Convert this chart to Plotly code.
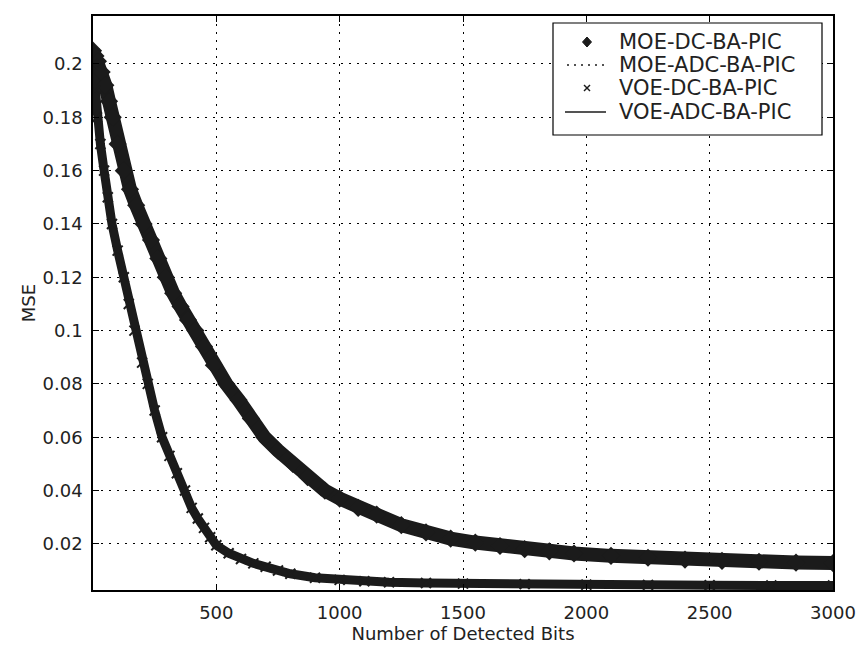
import plotly.graph_objects as go

# ---- data ----
moe_dc_bits = [0, 10, 20, 35, 50, 65, 80, 100, 125, 150, 175, 205, 235, 265, 295, 325, 355, 385,
               415, 450, 490, 540, 590, 640, 695, 750, 810, 870, 940, 1000, 1075, 1150, 1250, 1350,
               1450, 1550, 1650, 1750, 1850, 1950, 2100, 2250, 2400, 2550, 2700, 2850, 3000]
moe_dc_mse = [0.205, 0.203, 0.201, 0.197, 0.192, 0.186, 0.180, 0.170, 0.160, 0.153, 0.147, 0.140,
              0.134, 0.127, 0.120, 0.114, 0.109, 0.104, 0.100, 0.094, 0.087, 0.080, 0.074, 0.067,
              0.060, 0.055, 0.050, 0.045, 0.040, 0.037, 0.0335, 0.031, 0.027, 0.0243, 0.022, 0.0205,
              0.0192, 0.018, 0.0172, 0.0164, 0.0155, 0.0148, 0.0141, 0.0136, 0.0133, 0.013, 0.0128]

moe_adc_bits = [0, 50, 100, 150, 200, 300, 400, 500, 600, 700, 800, 900, 1000, 1200, 1400, 1600,
                1800, 2000, 2250, 2500, 2750, 3000]
moe_adc_mse = [0.204, 0.191, 0.171, 0.153, 0.141, 0.119, 0.102, 0.085, 0.073, 0.059, 0.049, 0.043,
               0.037, 0.029, 0.0235, 0.0198, 0.0176, 0.016, 0.0148, 0.0137, 0.0131, 0.0128]

voe_dc_bits = [0, 8, 16, 30, 45, 60, 77, 100, 125, 145, 168, 199, 222, 250, 280, 310, 340, 373,
               400, 425, 450, 475, 500, 550, 600, 650, 700, 750, 800, 900, 1000, 1100, 1200, 1350,
               1500, 1750, 2000, 2250, 2500, 2750, 3000]
voe_dc_mse = [0.200, 0.190, 0.180, 0.170, 0.160, 0.150, 0.140, 0.130, 0.120, 0.110, 0.100, 0.088,
              0.080, 0.070, 0.060, 0.053, 0.0465, 0.040, 0.0335, 0.0295, 0.026, 0.0225, 0.0195,
              0.0165, 0.0143, 0.0127, 0.0114, 0.010, 0.0088, 0.0073, 0.0065, 0.006, 0.0056, 0.0053,
              0.0051, 0.0049, 0.0047, 0.0046, 0.0045, 0.0044, 0.0044]

voe_adc_bits = [0, 20, 50, 80, 120, 170, 220, 280, 370, 450, 500, 600, 700, 800, 900, 1000, 1200,
                1500, 2000, 2500, 3000]
voe_adc_mse = [0.199, 0.178, 0.157, 0.139, 0.122, 0.099, 0.081, 0.060, 0.041, 0.026, 0.0196,
               0.0143, 0.0114, 0.0089, 0.0073, 0.0065, 0.0056, 0.0051, 0.0047, 0.0045, 0.0044]

series_names = ["MOE-DC-BA-PIC", "MOE-ADC-BA-PIC", "VOE-DC-BA-PIC", "VOE-ADC-BA-PIC"]

x_ticks = [500, 1000, 1500, 2000, 2500, 3000]
y_ticks = [0.02, 0.04, 0.06, 0.08, 0.10, 0.12, 0.14, 0.16, 0.18, 0.20]
y_tick_text = ["0.02", "0.04", "0.06", "0.08", "0.1", "0.12", "0.14", "0.16", "0.18", "0.2"]

INK = "#1b1b1b"
TXT = "#222"
FONT = "DejaVu Sans"

fig = go.Figure()

# ADC lines (lie underneath the dense marker bands)
fig.add_trace(go.Scatter(x=moe_adc_bits, y=moe_adc_mse, mode="lines", name=series_names[1],
                         showlegend=False, line=dict(color=INK, width=1.2, dash="dot")))
fig.add_trace(go.Scatter(x=voe_adc_bits, y=voe_adc_mse, mode="lines", name=series_names[3],
                         showlegend=False, line=dict(color=INK, width=1.2)))

# dense bands of the DC marker series
fig.add_trace(go.Scatter(x=moe_dc_bits, y=moe_dc_mse, mode="lines", showlegend=False,
                         hoverinfo="skip", line=dict(color=INK, width=14)))
fig.add_trace(go.Scatter(x=voe_dc_bits, y=voe_dc_mse, mode="lines", showlegend=False,
                         hoverinfo="skip", line=dict(color=INK, width=9)))

fig.add_trace(go.Scatter(x=moe_dc_bits, y=moe_dc_mse, mode="markers", name=series_names[0],
                         showlegend=False, marker=dict(symbol="diamond", size=14, color=INK)))
fig.add_trace(go.Scatter(x=voe_dc_bits, y=voe_dc_mse, mode="markers", name=series_names[2],
                         showlegend=False,
                         marker=dict(symbol="x-thin", size=10, color=INK,
                                     line=dict(color=INK, width=2))))

# invisible trace that carries the overlay axes used for the legend box (pixel-like coords)
fig.add_trace(go.Scatter(x=[None], y=[None], xaxis="x2", yaxis="y2", showlegend=False,
                         hoverinfo="skip"))

axis_common = dict(
    showline=True, linecolor="black", linewidth=1.5, mirror="allticks",
    ticks="inside", ticklen=6, tickcolor="black", tickwidth=1.2,
    showgrid=True, gridcolor="black", gridwidth=1.4, griddash="2px,6px",
    zeroline=False, automargin=False, tickfont=dict(family=FONT, size=18, color=TXT),
)

fig.update_xaxes(range=[0, 3000], tickvals=x_ticks, ticklabelstandoff=6,
                 title=dict(text="Number of Detected Bits", standoff=4,
                            font=dict(family=FONT, size=18, color=TXT)),
                 **axis_common)
fig.update_yaxes(range=[0.0027, 0.218], tickvals=y_ticks, ticktext=y_tick_text,
                 ticklabelstandoff=5,
                 title=dict(text="MSE", standoff=2, font=dict(family=FONT, size=18, color=TXT)),
                 **axis_common)

# ---- hand-built legend box (MATLAB style) ----
shapes = [
    dict(type="rect", xref="x2", yref="y2", x0=553, x1=822, y0=23, y1=135,
         line=dict(color="black", width=1.2), fillcolor="white", layer="above"),
    dict(type="path", xref="x2", yref="y2", path="M 587 37 L 591.5 42 L 587 47 L 582.5 42 Z",
         fillcolor=INK, line=dict(color=INK, width=1), layer="above"),
    dict(type="line", xref="x2", yref="y2", x0=567, x1=604, y0=65, y1=65,
         line=dict(color=INK, width=1.6, dash="2px,5px"), layer="above"),
    dict(type="line", xref="x2", yref="y2", x0=584, x1=590, y0=85, y1=91,
         line=dict(color=INK, width=1.4), layer="above"),
    dict(type="line", xref="x2", yref="y2", x0=584, x1=590, y0=91, y1=85,
         line=dict(color=INK, width=1.4), layer="above"),
    dict(type="line", xref="x2", yref="y2", x0=565, x1=606, y0=112, y1=112,
         line=dict(color=INK, width=1.4), layer="above"),
]
row_y = [42, 65, 88, 112]
annotations = [
    dict(text=name, xref="x2", yref="y2", x=617, y=yy, xanchor="left", yanchor="middle",
         showarrow=False, font=dict(family=FONT, size=21, color=TXT))
    for name, yy in zip(series_names, row_y)
]

fig.update_layout(
    width=857, height=648,
    margin=dict(l=93, r=24, t=16, b=58),
    paper_bgcolor="white", plot_bgcolor="white",
    font=dict(family=FONT, color=TXT),
    showlegend=False,
    xaxis2=dict(overlaying="x", range=[93, 833], visible=False, fixedrange=True,
                automargin=False),
    yaxis2=dict(overlaying="y", range=[590, 16], visible=False, fixedrange=True,
                automargin=False),
    shapes=shapes,
    annotations=annotations,
)

fig.write_html("out.html")
